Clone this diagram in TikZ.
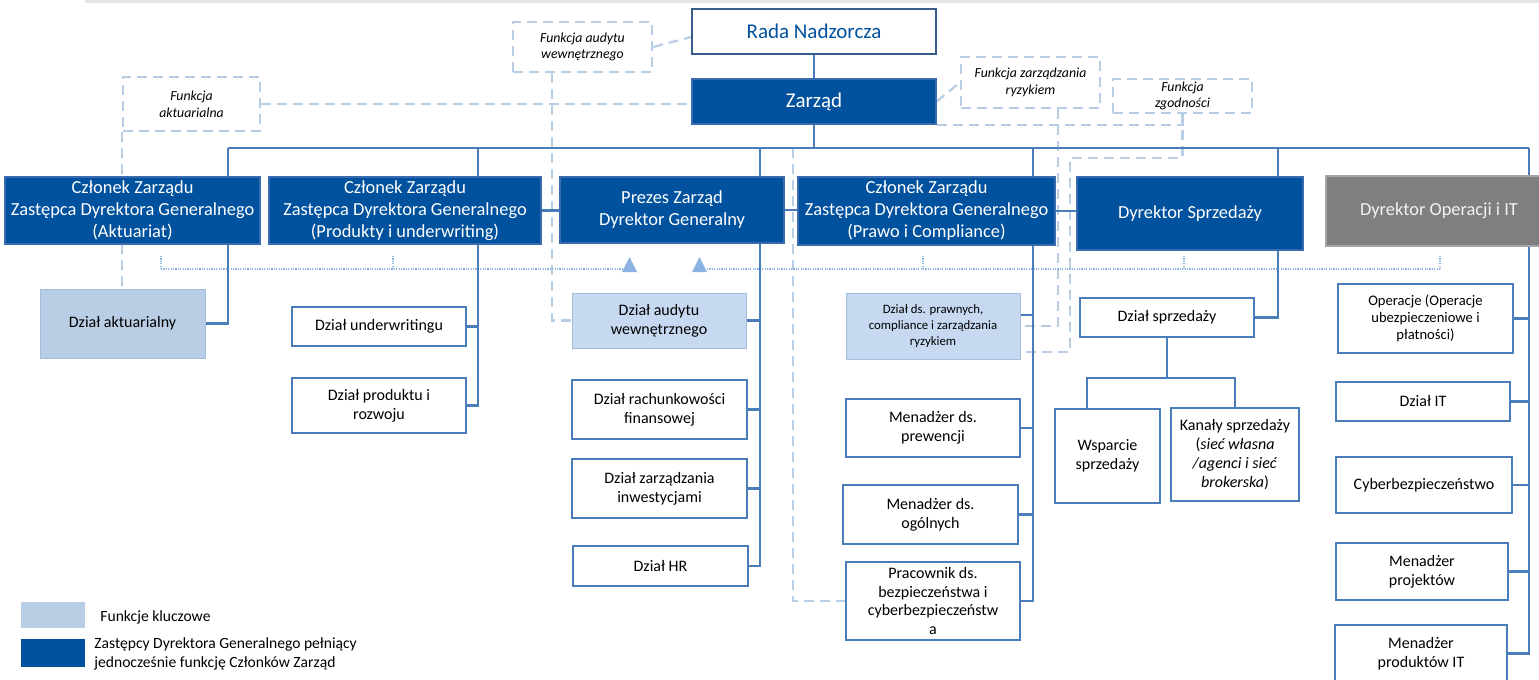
\documentclass[tikz,border=0pt]{standalone}
\usepackage{fontspec}
\setmainfont{Carlito}
\usetikzlibrary{backgrounds}

\definecolor{zblue}{HTML}{00519E}
\definecolor{boardedge}{HTML}{3A6BAE}
\definecolor{radaedge}{HTML}{385D8A}
\definecolor{unitedge}{HTML}{4A7EBB}
\definecolor{connblue}{HTML}{4A7EBB}
\definecolor{keyfill}{HTML}{B9CDE5}
\definecolor{keylight}{HTML}{C6D9F1}
\definecolor{fncol}{HTML}{B9CDE5}
\definecolor{dotcol}{HTML}{8DB3E2}
\definecolor{opgray}{HTML}{7F7F7F}
\definecolor{topgray}{HTML}{E4E4E4}

\begin{document}
\begin{tikzpicture}[x=0.5pt, y=-0.5pt,
	board/.style={draw=boardedge, line width=0.6pt, fill=zblue, text=white, align=center, inner sep=1pt, font=\fontsize{9.2}{11}\selectfont},
	topboard/.style={board, font=\fontsize{10.5}{12.5}\selectfont},
	unit/.style={draw=unitedge, line width=0.9pt, fill=white, align=center, inner sep=1pt, font=\fontsize{8}{9.6}\selectfont},
	keybox/.style={unit, draw=keyfill!80!unitedge, line width=0.5pt, fill=keyfill},
	fnbox/.style={draw=fncol, line width=1.1pt, dash pattern=on 5pt off 3pt, align=center, inner sep=1pt, font=\itshape\fontsize{6.9}{8.3}\selectfont},
	legend/.style={align=left, inner sep=0pt, font=\fontsize{7.8}{9.2}\selectfont},
	conn/.style={draw=connblue, line width=1.1pt},
	fnline/.style={draw=fncol, line width=1.1pt, dash pattern=on 5pt off 3pt},
	dotline/.style={draw=dotcol, line width=0.9pt, dash pattern=on 0.6pt off 0.6pt}]
	\useasboundingbox (0,0) rectangle (1539,680);
	\fill[topgray] (85,0) rectangle (1539,3);

	\node[topboard, fill=white, text=zblue, draw=radaedge, line width=0.9pt, minimum width=122pt, minimum height=22.5pt] (rada) at (814,31.5) {Rada Nadzorcza};
	\node[topboard, minimum width=122pt, minimum height=22.5pt] (zarzad) at (814,101.5) {Zarząd};

	\begin{scope}[every node/.append style={fnbox}]
		\node[minimum width=69.5pt, minimum height=25pt] (fAudyt) at (582.5,47) {Funkcja audytu\\wewnętrznego};
		\node[minimum width=68.5pt, minimum height=27pt] (fAkt) at (191.5,104) {Funkcja\\aktuarialna};
		\node[minimum width=69.5pt, minimum height=25.5pt] (fRyzyko) at (1030.5,82.5) {Funkcja zarządzania\\ryzykiem};
		\node[minimum width=69.5pt, minimum height=17pt] (fZgod) at (1182.5,96) {Funkcja\\zgodności};
	\end{scope}

	\node[board, minimum width=127.5pt, minimum height=33.5pt] (cAkt) at (132.5,210.5) {Członek Zarządu\\Zastępca Dyrektora Generalnego\\(Aktuariat)};
	\node[board, minimum width=136pt, minimum height=33.5pt] (cProd) at (405,210.5) {Członek Zarządu\\Zastępca Dyrektora Generalnego\\(Produkty i underwriting)};
	\node[board, minimum width=112pt, minimum height=33pt] (prezes) at (672,210) {Prezes Zarząd\\Dyrektor Generalny};
	\node[board, minimum width=128.5pt, minimum height=34pt] (cPrawo) at (926.5,211) {Członek Zarządu\\Zastępca Dyrektora Generalnego\\(Prawo i Compliance)};
	\node[board, minimum width=113pt, minimum height=36.5pt] (dSprz) at (1190,213.5) {Dyrektor Sprzedaży};
	\node[board, fill=opgray, draw=opgray!70!white, text=white!95!black, minimum width=113pt, minimum height=35pt] (dOper) at (1439,211) {Dyrektor Operacji i IT};

	\node[keybox, minimum width=82.5pt, minimum height=34.5pt] (dAkt) at (122.5,323.5) {Dział aktuarialny};
	\node[unit, minimum width=87pt, minimum height=19.5pt] (dUnder) at (379,326.5) {Dział underwritingu};
	\node[unit, minimum width=87pt, minimum height=27.5pt] (dProd) at (379,405.5) {Dział produktu i\\rozwoju};

	\node[keybox, fill=keylight, minimum width=87pt, minimum height=27.5pt] (dAudyt) at (659,320.5) {Dział audytu\\wewnętrznego};
	\node[unit, minimum width=87.5pt, minimum height=29.5pt] (dRach) at (659.5,409.5) {Dział rachunkowości\\finansowej};
	\node[unit, minimum width=87.5pt, minimum height=29.5pt] (dInw) at (659.5,488.5) {Dział zarządzania\\inwestycjami};
	\node[unit, minimum width=87.5pt, minimum height=20pt] (dHR) at (660.5,566) {Dział HR};

	\node[keybox, fill=keylight, font=\fontsize{6.4}{7.8}\selectfont, minimum width=87pt, minimum height=33pt] (dPraw) at (933,326) {Dział ds. prawnych,\\compliance i zarządzania\\ryzykiem};
	\node[unit, minimum width=87pt, minimum height=29pt] (mPrew) at (933,428) {Menadżer ds.\\prewencji};
	\node[unit, minimum width=87.5pt, minimum height=29.5pt] (mOgol) at (930.5,514.5) {Menadżer ds.\\ogólnych};
	\node[unit, inner sep=0pt, font=\fontsize{8}{9.4}\selectfont, minimum width=87pt, minimum height=39pt] (pBezp) at (933,601) {Pracownik ds.\\bezpieczeństwa i\\cyberbezpieczeństw\\a};

	\node[unit, minimum width=87pt, minimum height=19.5pt] (dSprzDz) at (1167,317.5) {Dział sprzedaży};
	\node[unit, minimum width=52.5pt, minimum height=47pt] (wSprz) at (1107.5,456) {Wsparcie\\sprzedaży};
	\node[unit, minimum width=64pt, minimum height=46.5pt] (kSprz) at (1235,454.5) {Kanały sprzedaży\\(\textit{sieć własna}\\\textit{/agenci i sieć}\\\textit{brokerska})};

	\node[unit, font=\fontsize{7.3}{8.5}\selectfont, minimum width=87.5pt, minimum height=34.5pt] (oper) at (1425.5,318.5) {Operacje (Operacje\\ubezpieczeniowe i\\płatności)};
	\node[unit, minimum width=87pt, minimum height=19.5pt] (dIT) at (1423,401.5) {Dział IT};
	\node[unit, minimum width=88pt, minimum height=28pt] (cyber) at (1424,485) {Cyberbezpieczeństwo};
	\node[unit, minimum width=86pt, minimum height=28.5pt] (mProj) at (1422,571.5) {Menadżer\\projektów};
	\node[unit, minimum width=86pt, minimum height=28.5pt] (mProdIT) at (1421,653.5) {Menadżer\\produktów IT};

	\node[keybox, draw=none, minimum width=32pt, minimum height=13pt] (lgKey) at (53,615) {};
	\node[board, draw=none, minimum width=32pt, minimum height=14pt] (lgBoard) at (53,653) {};
	\node[legend, anchor=west] (lgKeyTxt) at (100,617) {Funkcje kluczowe};
	\node[legend, anchor=west] (lgBoardTxt) at (94,654) {Zastępcy Dyrektora Generalnego pełniący\\jednocześnie funkcję Członków Zarząd};

	\coordinate (hub) at (814,148);
	\coordinate (tAkt) at (228,148);
	\coordinate (tProd) at (478,148);
	\coordinate (tPrez) at (760,148);
	\coordinate (tPrawo) at (1033,148);
	\coordinate (tSprz) at (1278,148);
	\coordinate (tOper) at (1529,148);
	\coordinate (sFork) at (1167,378);
	\coordinate (zBend) at (1070,158);
	\coordinate (sBend) at (793,148);

	\begin{scope}[on background layer]
		\draw[fnline] (fAudyt.east) -- ([yshift=-2.75pt]rada.west);
		\draw[fnline] ([xshift=-15.25pt]fAudyt.south) |- (dAudyt.west);
		\draw[fnline] (fAkt.east) -- (fAkt.east -| zarzad.west);
		\draw[fnline] (fAkt.south west) -- (fAkt.south west |- dAkt.north);
		\draw[fnline] (zarzad.east) -- (fRyzyko.west);
		\draw[fnline] ([xshift=13.75pt]fRyzyko.south) |- (dPraw.east);
		\draw[fnline] (zarzad.south east) -| (fZgod.south);
		\draw[fnline] (fZgod.south) |- (zBend) |- ([yshift=-13pt]dPraw.east);
		\draw[fnline] (sBend) |- (pBezp.west);

		\draw[dotline] (161,269) -- (622,269);
		\draw[dotline] (707,269) -- (1440,269);
		\foreach \tx in {161,393,923,1184,1440}
			\draw[dotline] (\tx,256) -- (\tx,269);
		\draw[dotline] (193,289) -- (193,303);
		\fill[dotcol] (622,272) -- (629.5,257) -- (637,272) -- cycle;
		\fill[dotcol] (692,272) -- (699.5,257) -- (707,272) -- cycle;

		\draw[conn] (rada) -- (zarzad);
		\draw[conn] (zarzad.south) -- (hub);
		\draw[conn] (tAkt) -- (tOper);
		\foreach \t/\b in {tAkt/cAkt, tProd/cProd, tPrez/prezes, tPrawo/cPrawo, tSprz/dSprz, tOper/dOper}
			\draw[conn] (\t) -- (\t |- \b.north);

		\draw[conn] (cProd.east) -- (cProd.east -| prezes.west);
		\draw[conn] (prezes.east) -- (prezes.east -| cPrawo.west);
		\draw[conn] (cPrawo.east) -- (cPrawo.east -| dSprz.west);

		\draw[conn] (tAkt |- cAkt.south) |- (dAkt.east);
		\draw[conn] (tProd |- cProd.south) |- (dProd.east);
		\draw[conn] (dUnder.east) -- (dUnder.east -| tProd);
		\draw[conn] (tPrez |- prezes.south) |- (dHR.east);
		\foreach \n in {dAudyt, dRach, dInw}
			\draw[conn] (\n.east) -- (\n.east -| tPrez);
		\draw[conn] (tPrawo |- cPrawo.south) |- (pBezp.east);
		\draw[conn] ([yshift=5.5pt]dPraw.east) -- ([yshift=5.5pt]dPraw.east -| tPrawo);
		\foreach \n in {mPrew, mOgol}
			\draw[conn] (\n.east) -- (\n.east -| tPrawo);
		\draw[conn] (tSprz |- dSprz.south) |- (dSprzDz.east);
		\draw[conn] (dSprzDz.south) -- (sFork);
		\draw[conn] ([xshift=-10.25pt]wSprz.north) |- (sFork) -| (kSprz.north);
		\draw[conn] (tOper |- dOper.south) |- (mProdIT.east);
		\foreach \n in {oper, dIT, cyber, mProj}
			\draw[conn] (\n.east) -- (\n.east -| tOper);
	\end{scope}
\end{tikzpicture}
\end{document}
